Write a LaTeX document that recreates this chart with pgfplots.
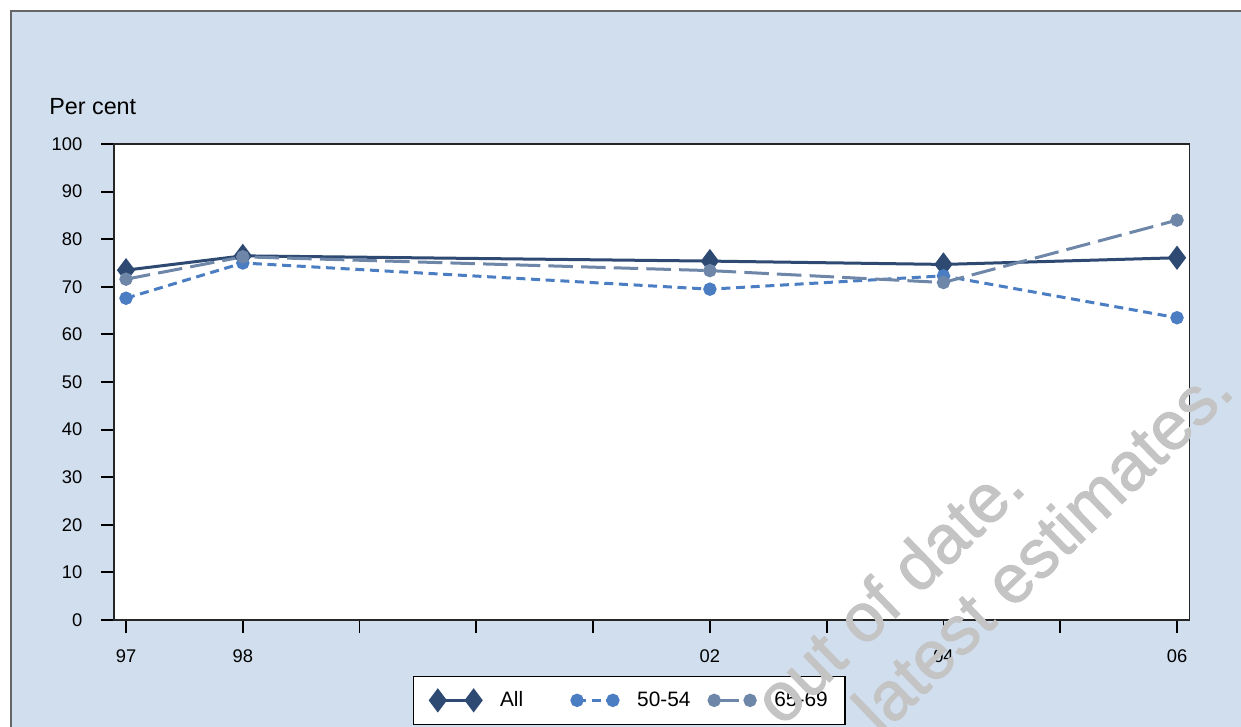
\documentclass[border=0pt]{standalone}
\usepackage{fontspec}
\setmainfont{Liberation Sans}
\newfontfamily\wmfont[FakeBold=1.5]{Liberation Sans}
\usepackage{pgfplots}
\pgfplotsset{compat=1.18}
\definecolor{bg}{RGB}{209,222,237}
\definecolor{cAll}{RGB}{46,74,115}
\definecolor{cFifty}{RGB}{74,125,194}
\definecolor{cSixty}{RGB}{110,135,169}
\definecolor{wm}{RGB}{196,196,196}
\begin{document}
\begin{tikzpicture}
\useasboundingbox (-68.4pt,-64.2pt) rectangle (676.2pt,372pt);
\fill[bg] (-61.8pt,-70pt) rectangle (690pt,365.4pt);
\draw[black!60, line width=0.8pt] (-61.8pt,-70pt) -- (-61.8pt,365.4pt) -- (690pt,365.4pt);
\node[anchor=base west, inner sep=0pt, font=\fontsize{14}{16}\selectfont] at (-39pt,303pt) {Per cent};
\begin{axis}[
  at={(0pt,0pt)}, anchor=south west,
  scale only axis, width=645.3pt, height=285.6pt,
  xmin=96.897, xmax=106.107, ymin=0, ymax=100,
  axis background/.style={fill=white},
  xtick={97,98,99,100,101,102,103,104,105,106},
  xticklabels={97,98,,,,02,,04,,06},
  ytick={0,10,20,30,40,50,60,70,80,90,100},
  tick align=outside, major tick length=7.5pt,
  tick pos=left,
  tick style={black, line width=1.1pt},
  axis line style={black!85, line width=0.7pt},
  ticklabel style={font=\fontsize{11}{13}\selectfont},
  yticklabel style={xshift=-8pt},
  xticklabel style={yshift=-6.6pt},
  /pgf/number format/assume math mode=true,
  legend columns=3,
  legend style={at={(0.278,-0.1176)}, anchor=north west, draw=black, line width=0.7pt,
    fill=white, font=\fontsize{12.5}{15}\selectfont,
    inner xsep=10.2pt, inner ysep=7pt, column sep=11.5pt,
    nodes={inner xsep=0pt}},
  legend image code/.code={\draw[#1] plot coordinates {(0pt,0pt) (21.5pt,0pt)};},
]
\addplot[cAll, line width=1.8pt, mark=diamond*, mark size=5.8pt, mark options={solid, fill=cAll}]
  coordinates {(97,73.5) (98,76.5) (102,75.4) (104,74.7) (106,76.1)};
\addlegendentry{\makebox[31.6pt][l]{All}}
\addplot[cFifty, line width=1.8pt, dash pattern=on 5.4pt off 3.4pt, mark=*, mark size=3.1pt, mark options={solid, fill=cFifty}]
  coordinates {(97,67.6) (98,75.0) (102,69.5) (104,72.3) (106,63.5)};
\addlegendentry{\makebox[31.6pt][l]{50-54}}
\addplot[cSixty, line width=1.8pt, dash pattern=on 14.7pt off 4.9pt, mark=*, mark size=3.1pt, mark options={solid, fill=cSixty}]
  coordinates {(97,71.6) (98,76.3) (102,73.4) (104,70.9) (106,84.0)};
\addlegendentry{\makebox[32.2pt][l]{65-69}}
\end{axis}
\node[rotate=44, anchor=base east, inner sep=0pt, text=wm, font=\wmfont\fontsize{41}{49}\selectfont] at (548.5pt,78pt) {out of date.};
\node[rotate=44, anchor=base east, inner sep=0pt, text=wm, font=\wmfont\fontsize{41}{49}\selectfont] at (673.5pt,136pt) {latest estimates.};
\end{tikzpicture}
\end{document}
